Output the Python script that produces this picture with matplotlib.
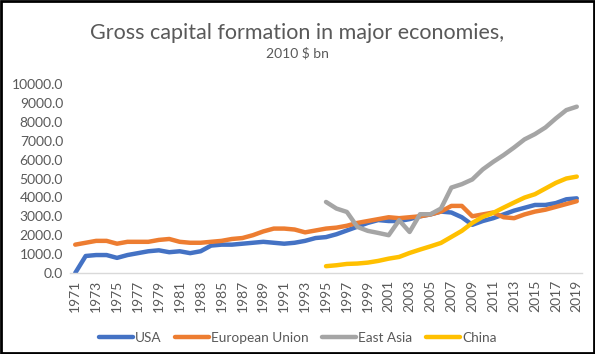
import matplotlib.pyplot as plt
import matplotlib.patches as mpatches

plt.rcParams["font.family"] = ["Lato", "DejaVu Sans"]

TEXT = "#595959"

years = list(range(1971, 2020))

usa = [0, 900, 950, 950, 800, 950, 1050, 1150, 1200, 1100,
       1150, 1050, 1150, 1450, 1500, 1500, 1550, 1600, 1650, 1600,
       1550, 1600, 1700, 1850, 1900, 2050, 2250, 2450, 2650, 2800,
       2750, 2750, 2850, 3000, 3100, 3250, 3200, 2950, 2550, 2750,
       2900, 3100, 3300, 3450, 3600, 3600, 3700, 3900, 3950]

eu = [1500, 1600, 1700, 1700, 1550, 1650, 1650, 1650, 1750, 1800,
      1650, 1600, 1600, 1650, 1700, 1800, 1850, 2000, 2200, 2350,
      2350, 2300, 2150, 2250, 2350, 2400, 2500, 2650, 2750, 2850,
      2950, 2900, 2950, 3000, 3100, 3250, 3550, 3550, 3000, 3100,
      3200, 2950, 2900, 3100, 3250, 3350, 3500, 3650, 3800]

ea_years = list(range(1995, 2020))
east_asia = [3760, 3410, 3230, 2440, 2230, 2120, 2000, 2790, 2170, 3110,
             3110, 3410, 4520, 4700, 4950, 5480, 5880, 6240, 6640, 7070,
             7350, 7700, 8180, 8620, 8800]

china = [360, 410, 480, 500, 550, 640, 760, 850, 1060, 1240,
         1410, 1590, 1910, 2230, 2650, 2970, 3180, 3460, 3730, 3990,
         4170, 4470, 4770, 5000, 5100]

fig = plt.figure(figsize=(5.95, 3.54), dpi=100)
ax = fig.add_axes([70 / 595, 1 - 273 / 354, 512 / 595, 189 / 354])

lw = 3.2
ax.plot(years, usa, color="#4472C4", lw=lw, label="USA", solid_capstyle="round")
ax.plot(years, eu, color="#ED7D31", lw=lw, label="European Union", solid_capstyle="round")
ax.plot(ea_years, east_asia, color="#A5A5A5", lw=lw, label="East Asia", solid_capstyle="round")
ax.plot(ea_years, china, color="#FFC000", lw=lw, label="China", solid_capstyle="round")

ax.set_xlim(1970.5, 2019.5)
ax.set_ylim(0, 10000)
ax.set_yticks(range(0, 10001, 1000))
ax.set_yticklabels([f"{v:.1f}" for v in range(0, 10001, 1000)], color=TEXT, fontsize=10)
ax.set_xticks(years[::2])
ax.set_xticklabels([str(y) for y in years[::2]], rotation=90, color=TEXT, fontsize=10)
ax.tick_params(length=0, pad=5)
for side in ["top", "right", "left"]:
    ax.spines[side].set_visible(False)
ax.spines["bottom"].set_color("#D9D9D9")
ax.spines["bottom"].set_linewidth(1)

fig.text(0.5, 1 - 33 / 354, "Gross capital formation in major economies,",
         ha="center", va="center", fontsize=15.5, color=TEXT)
fig.text(0.5, 1 - 53 / 354, "2010 $ bn", ha="center", va="center", fontsize=10, color=TEXT)

fig.legend(loc="center", bbox_to_anchor=(0.5, 1 - 338 / 354), ncol=4, frameon=False,
           fontsize=9.8, labelcolor=TEXT, handlelength=2.5, handletextpad=0.15,
           columnspacing=1.0)

fig.patches.append(mpatches.Rectangle((0.002, 0.003), 0.996, 0.994, transform=fig.transFigure,
                                      fill=False, edgecolor="black", lw=2))

fig.savefig("out.png", dpi=100)
